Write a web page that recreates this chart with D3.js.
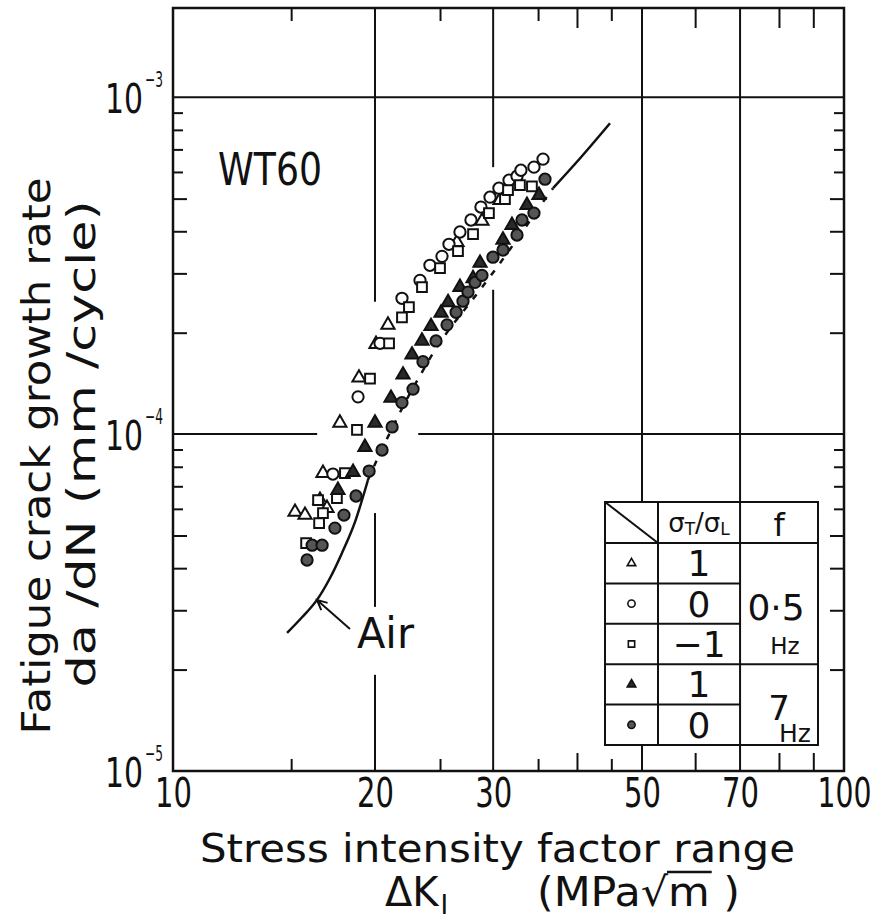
<!DOCTYPE html>
<html>
<head>
<meta charset="utf-8">
<script src="https://d3js.org/d3.v7.min.js"></script>
<style>
  body { margin: 0; background: #fff; }
  text { font-family: "DejaVu Sans", "Liberation Sans", sans-serif; fill: #111; }
</style>
</head>
<body>
<svg width="881" height="919" id="mainsvg"></svg>
<script>
// values: dK (MPa sqrt m) and da/dN (mm/cycle)
const tri05K    = [15.20, 15.73, 16.56, 16.96, 16.73, 17.73, 18.93, 20.07, 20.91, 26.50, 28.87, 30.71];
const tri05Rate = [5.87e-5, 5.75e-5, 6.37e-5, 6.03e-5, 7.66e-5, 1.08e-4, 1.47e-4, 1.85e-4, 2.11e-4, 3.71e-4, 4.29e-4, 4.95e-4];

const circ05K    = [17.31, 18.87, 20.35, 21.94, 23.34, 24.15, 25.17, 25.78, 26.77, 27.80, 28.77, 29.68, 30.60, 31.68, 32.56, 33.00, 34.51, 35.60];
const circ05Rate = [7.61e-5, 1.29e-4, 1.86e-4, 2.53e-4, 2.86e-4, 3.17e-4, 3.37e-4, 3.66e-4, 3.98e-4, 4.32e-4, 4.72e-4, 5.05e-4, 5.37e-4, 5.67e-4, 5.83e-4, 6.07e-4, 6.20e-4, 6.55e-4];

const sq05K    = [15.79, 16.51, 16.73, 16.45, 17.55, 18.04, 18.80, 19.66, 20.99, 21.94, 22.47, 23.50, 25.00, 26.59, 28.00, 29.57, 31.24, 31.57, 32.89, 34.27];
const sq05Rate = [4.75e-5, 5.44e-5, 5.83e-5, 6.37e-5, 6.46e-5, 7.66e-5, 1.03e-4, 1.46e-4, 1.86e-4, 2.22e-4, 2.38e-4, 2.73e-4, 3.11e-4, 3.49e-4, 3.92e-4, 4.53e-4, 4.98e-4, 5.30e-4, 5.48e-4, 5.44e-4];

const tri7K    = [17.61, 18.55, 19.32, 20.00, 21.13, 22.02, 22.71, 23.50, 24.24, 25.09, 25.70, 26.77, 28.00, 28.68, 31.03, 32.00, 33.69, 35.11];
const tri7Rate = [6.82e-5, 7.71e-5, 9.15e-5, 1.08e-4, 1.28e-4, 1.50e-4, 1.72e-4, 1.89e-4, 2.09e-4, 2.29e-4, 2.46e-4, 2.73e-4, 2.90e-4, 3.22e-4, 3.77e-4, 4.17e-4, 4.78e-4, 5.12e-4];

const circ7K    = [15.84, 16.12, 16.68, 17.43, 17.98, 18.74, 19.60, 20.49, 21.21, 21.94, 22.79, 23.58, 24.66, 25.61, 26.42, 27.05, 27.52, 28.19, 28.87, 29.98, 31.03, 32.56, 33.12, 34.51, 35.84];
const circ7Rate = [4.23e-5, 4.68e-5, 4.68e-5, 5.26e-5, 5.75e-5, 6.55e-5, 7.77e-5, 8.97e-5, 1.05e-4, 1.24e-4, 1.36e-4, 1.64e-4, 1.89e-4, 2.11e-4, 2.30e-4, 2.48e-4, 2.64e-4, 2.82e-4, 2.96e-4, 3.35e-4, 3.52e-4, 3.90e-4, 4.32e-4, 4.53e-4, 5.71e-4];

// air curve, dashed between airDash[0] and airDash[1]
const airK    = [14.79, 15.57, 16.39, 17.14, 17.86, 18.67, 19.52, 20.35, 21.21, 22.17, 23.34, 24.58, 25.87, 27.24, 28.68, 30.19, 31.79, 33.46, 35.23, 36.84, 40.43, 44.80];
const airRate = [2.57e-5, 2.86e-5, 3.22e-5, 3.74e-5, 4.44e-5, 5.48e-5, 7.30e-5, 8.78e-5, 1.04e-4, 1.24e-4, 1.49e-4, 1.78e-4, 2.06e-4, 2.35e-4, 2.68e-4, 3.07e-4, 3.54e-4, 4.09e-4, 4.75e-4, 5.37e-4, 6.59e-4, 8.37e-4];
const airDash = [19.52, 36.84];

const xTickVals = [10, 20, 30, 50, 70, 100];
const xMinorShort = [15, 25, 35, 45];
const xMinorLong = [40, 60, 80, 90];
const yTickVals = [1e-5, 1e-4, 1e-3];
const yTickExp = ['−5', '−4', '−3'];

const gridK = [20, 30, 50, 70];
const gridKGaps = [[[1.93e-5, 3.07e-5], [5.83e-5, 2.47e-4]], [[2.68e-4, 6.2e-4]], [], []];
const gridRate = [1e-4, 1e-3];
const gridRateGaps = [[[16.4, 23.2]], []];

const legendRatio = ['1', '0', '−1', '1', '0'];

const svg = d3.select('#mainsvg');
const width = +svg.attr('width');
const height = +svg.attr('height');
const margin = {top: 8, right: 37, bottom: 148, left: 173};
const innerWidth = width - margin.left - margin.right;
const innerHeight = height - margin.top - margin.bottom;

const yTop = 1.84e-3;
const x = d3.scaleLog().domain([10, 100]).range([0, innerWidth]);
const y = d3.scaleLog().domain([1e-5, yTop]).range([innerHeight, 0]);

const g = svg.append('g').attr('transform', `translate(${margin.left},${margin.top})`);

// split a [lo,hi] span by a gap list
function spans(lo, hi, gaps) {
  const out = [];
  let a = lo;
  gaps.forEach(gp => { out.push([a, gp[0]]); a = gp[1]; });
  out.push([a, hi]);
  return out;
}

// grid lines
gridK.forEach((k, i) => {
  spans(1e-5, yTop, gridKGaps[i]).forEach(s => {
    g.append('line').attr('x1', x(k)).attr('x2', x(k))
      .attr('y1', y(s[0])).attr('y2', y(s[1]))
      .attr('stroke', '#111').attr('stroke-width', 2);
  });
});
gridRate.forEach((r, i) => {
  spans(10, 100, gridRateGaps[i]).forEach(s => {
    g.append('line').attr('x1', x(s[0])).attr('x2', x(s[1]))
      .attr('y1', y(r)).attr('y2', y(r))
      .attr('stroke', '#111').attr('stroke-width', 2);
  });
});

// minor ticks, pointing inward on all four sides
function tickAxis(axis, tr) {
  const a = g.append('g').attr('transform', tr).call(axis);
  a.select('.domain').remove();
  a.selectAll('line').attr('stroke', '#111').attr('stroke-width', 2);
  return a;
}
tickAxis(d3.axisBottom(x).tickValues(xMinorShort).tickSize(-12).tickFormat(''), `translate(0,${innerHeight})`);
tickAxis(d3.axisBottom(x).tickValues(xMinorLong).tickSize(-18).tickFormat(''), `translate(0,${innerHeight})`);
tickAxis(d3.axisTop(x).tickValues(xMinorShort).tickSize(-13).tickFormat(''), 'translate(0,0)');
tickAxis(d3.axisTop(x).tickValues(xMinorLong).tickSize(-20).tickFormat(''), 'translate(0,0)');

const yMinorA = [2, 3, 4, 5].flatMap(m => [m * 1e-5, m * 1e-4]);
const yMinorB = [6, 7, 8, 9].flatMap(m => [m * 1e-5, m * 1e-4]);
tickAxis(d3.axisLeft(y).tickValues(yMinorA).tickSize(-14).tickFormat(''), 'translate(0,0)');
tickAxis(d3.axisLeft(y).tickValues(yMinorB).tickSize(-10).tickFormat(''), 'translate(0,0)');
tickAxis(d3.axisRight(y).tickValues(yMinorA).tickSize(-14).tickFormat(''), `translate(${innerWidth},0)`);
tickAxis(d3.axisRight(y).tickValues(yMinorB).tickSize(-10).tickFormat(''), `translate(${innerWidth},0)`);

// frame
g.append('rect').attr('width', innerWidth).attr('height', innerHeight)
  .attr('fill', 'none').attr('stroke', '#111').attr('stroke-width', 2.5);

// tick labels
const xLab = g.append('g').attr('transform', `translate(0,${innerHeight})`)
  .call(d3.axisBottom(x).tickValues(xTickVals).tickSize(0).tickPadding(7).tickFormat(d3.format('d')));
xLab.select('.domain').remove();
xLab.attr('font-family', null).attr('font-size', 41);
xLab.selectAll('text').attr('fill', '#111')
  .attr('textLength', d => d >= 100 ? 54 : 37).attr('lengthAdjust', 'spacingAndGlyphs');

const yLab = g.append('g').call(d3.axisLeft(y).tickValues(yTickVals).tickSize(0).tickFormat(''));
yLab.select('.domain').remove();
yLab.attr('font-family', null).attr('text-anchor', null);
yLab.selectAll('.tick').each(function(d, i) {
  const t = d3.select(this);
  t.append('text').attr('x', -68).attr('y', 15).attr('text-anchor', 'start')
    .attr('font-size', 41).attr('fill', '#111')
    .attr('textLength', 38).attr('lengthAdjust', 'spacingAndGlyphs').text('10');
  t.append('text').attr('x', -28).attr('y', -11).attr('text-anchor', 'start')
    .attr('font-size', 22).attr('fill', '#111')
    .attr('textLength', 18).attr('lengthAdjust', 'spacingAndGlyphs').text(yTickExp[i]);
});

// air curve
const line = d3.line().x(d => x(d[0])).y(d => y(d[1])).curve(d3.curveMonotoneX);
const air = airK.map((k, i) => [k, airRate[i]]);
const airLow = air.filter(d => d[0] <= airDash[0]);
const airMid = air.filter(d => d[0] >= airDash[0] && d[0] <= airDash[1]);
const airHigh = air.filter(d => d[0] >= airDash[1]);
[airLow, airHigh].forEach(part => {
  g.append('path').attr('d', line(part)).attr('fill', 'none')
    .attr('stroke', '#111').attr('stroke-width', 2.5);
});
g.append('path').attr('d', line(airMid)).attr('fill', 'none')
  .attr('stroke', '#111').attr('stroke-width', 2.5).attr('stroke-dasharray', '6,9');

// data markers
const series = [
  {K: tri05K, R: tri05Rate, shape: d3.symbolTriangle, size: 75, filled: false},
  {K: circ05K, R: circ05Rate, shape: d3.symbolCircle, size: 100, filled: false},
  {K: sq05K, R: sq05Rate, shape: d3.symbolSquare, size: 95, filled: false},
  {K: tri7K, R: tri7Rate, shape: d3.symbolTriangle, size: 75, filled: true, fill: '#2a2a2a'},
  {K: circ7K, R: circ7Rate, shape: d3.symbolCircle, size: 100, filled: true, fill: '#555'}
];
series.forEach(s => {
  g.append('g').selectAll('path').data(s.K.map((k, i) => [k, s.R[i]])).join('path')
    .attr('transform', d => `translate(${x(d[0])},${y(d[1])})`)
    .attr('d', d3.symbol().type(s.shape).size(s.size))
    .attr('fill', s.filled ? s.fill : '#fff')
    .attr('stroke', '#111').attr('stroke-width', 2);
});

// Air annotation
const tipX = x(16.39), tipY = y(3.22e-5);
const tailX = tipX + 33, tailY = tipY + 29;
const ang = Math.atan2(tailY - tipY, tailX - tipX);
const hl = 11;
g.append('path')
  .attr('d', `M${tailX},${tailY}L${tipX},${tipY}` +
    `M${tipX + hl * Math.cos(ang - 0.45)},${tipY + hl * Math.sin(ang - 0.45)}L${tipX},${tipY}` +
    `L${tipX + hl * Math.cos(ang + 0.45)},${tipY + hl * Math.sin(ang + 0.45)}`)
  .attr('fill', 'none').attr('stroke', '#111').attr('stroke-width', 2);
g.append('text').attr('x', tailX + 7).attr('y', tailY + 19)
  .attr('font-size', 42).attr('textLength', 57).attr('lengthAdjust', 'spacingAndGlyphs').text('Air');

g.append('text').attr('x', 218 - margin.left).attr('y', 185 - margin.top)
  .attr('font-size', 45).attr('textLength', 104).attr('lengthAdjust', 'spacingAndGlyphs')
  .text('WT60');

// legend table
const lg = g.append('g').attr('transform', `translate(${605 - margin.left},${502 - margin.top})`);
const c1 = 53, c2 = x(70) - (605 - margin.left), lw = 213;
const hh = 41, rh = 40.4, lh = hh + rh * 5;
lg.append('rect').attr('width', lw).attr('height', lh).attr('fill', '#fff')
  .attr('stroke', '#111').attr('stroke-width', 2);
const ln = (x1, y1, x2, y2) => lg.append('line').attr('x1', x1).attr('y1', y1)
  .attr('x2', x2).attr('y2', y2).attr('stroke', '#111').attr('stroke-width', 2);
ln(c1, 0, c1, lh);
ln(c2, 0, c2, lh);
ln(0, hh, lw, hh);
ln(0, 0, c1, hh);
[1, 2, 4].forEach(r => ln(0, hh + rh * r, c2, hh + rh * r));
ln(0, hh + rh * 3, lw, hh + rh * 3);

const hdr = lg.append('text').attr('x', (c1 + c2) / 2).attr('y', 30)
  .attr('text-anchor', 'middle').attr('font-size', 26);
hdr.append('tspan').text('σ');
hdr.append('tspan').attr('font-size', 17).attr('dy', 3).text('T');
hdr.append('tspan').attr('dy', -3).text('/σ');
hdr.append('tspan').attr('font-size', 17).attr('dy', 3).text('L');
lg.append('text').attr('x', (c2 + lw) / 2).attr('y', 34).attr('text-anchor', 'middle')
  .attr('font-size', 32).text('f');

series.forEach((s, i) => {
  const cy = hh + rh * (i + 0.5);
  lg.append('path').attr('transform', `translate(${c1 / 2},${cy})`)
    .attr('d', d3.symbol().type(s.shape).size(s.size * 0.42))
    .attr('fill', s.filled ? s.fill : '#fff').attr('stroke', '#111').attr('stroke-width', 1.6);
  lg.append('text').attr('x', (c1 + c2) / 2).attr('y', cy + 13).attr('text-anchor', 'middle')
    .attr('font-size', 36).text(legendRatio[i]);
});
const c3 = (c2 + lw) / 2;
lg.append('text').attr('x', c3 - 3).attr('y', 118).attr('text-anchor', 'middle')
  .attr('font-size', 36).text('0·5');
lg.append('text').attr('x', c3 + 6).attr('y', 152).attr('text-anchor', 'middle')
  .attr('font-size', 23).text('Hz');
lg.append('text').attr('x', c3).attr('y', 218).attr('text-anchor', 'middle')
  .attr('font-size', 34).text('7');
lg.append('text').attr('x', c3 + 16).attr('y', 240).attr('text-anchor', 'middle')
  .attr('font-size', 25).text('Hz');

// axis titles
svg.append('text').attr('x', 200).attr('y', 862).attr('font-size', 39)
  .attr('textLength', 595).attr('lengthAdjust', 'spacingAndGlyphs')
  .text('Stress intensity factor range');
const dk = svg.append('text').attr('x', 385).attr('y', 906).attr('font-size', 40);
dk.append('tspan').text('ΔK');
dk.append('tspan').attr('font-size', 26).attr('dy', 8).attr('dx', 2).text('I');
const unit = svg.append('text').attr('x', 537).attr('y', 906).attr('font-size', 40)
  .attr('textLength', 203).attr('lengthAdjust', 'spacingAndGlyphs')
  .text('(MPa√m )');
// bar over the m of the root sign
const un = unit.node();
const rootBox = un.getExtentOfChar(4), mBox = un.getExtentOfChar(5);
svg.append('line').attr('x1', rootBox.x + rootBox.width - 1).attr('x2', mBox.x + mBox.width + 2)
  .attr('y1', rootBox.y + 3).attr('y2', rootBox.y + 3)
  .attr('stroke', '#111').attr('stroke-width', 2.5);

svg.append('text').attr('transform', 'translate(50,456) rotate(-90)')
  .attr('text-anchor', 'middle').attr('font-size', 39)
  .attr('textLength', 557).attr('lengthAdjust', 'spacingAndGlyphs')
  .text('Fatigue crack growth rate');
svg.append('text').attr('transform', 'translate(95,444) rotate(-90)')
  .attr('text-anchor', 'middle').attr('font-size', 39)
  .attr('textLength', 487).attr('lengthAdjust', 'spacingAndGlyphs')
  .text('da /dN (mm /cycle)');
</script>
</body>
</html>
